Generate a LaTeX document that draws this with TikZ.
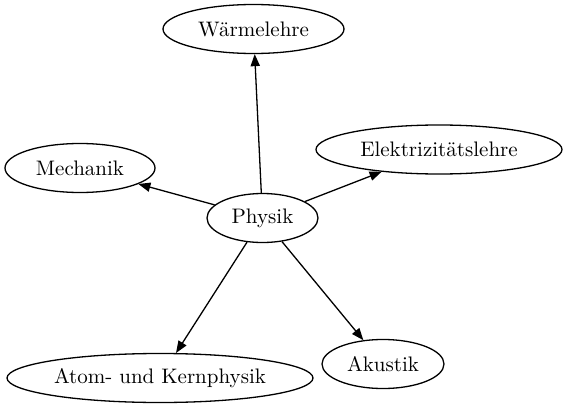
\documentclass[tikz,border=0pt]{standalone}
\usetikzlibrary{shapes.geometric,arrows.meta}
\begin{document}
\begin{tikzpicture}[x=0.5pt,y=-0.5pt,
  topic/.style={draw,ellipse,line width=0.65pt,inner sep=0pt,minimum height=24.5pt,font=\fontsize{10.5}{12}\selectfont},
  arr/.style={-{Triangle[length=6pt,width=4.6pt]},line width=0.65pt}]
  \useasboundingbox (0,0) rectangle (568,407);
  \draw (262.5,218) node[topic,minimum width=55.5pt] (p) {Physik}
   (253.5,29) node[topic,minimum width=90.5pt] (w) {Wärmelehre}
   (80,168) node[topic,minimum width=75pt] (m) {Mechanik}
   (439,149.5) node[topic,minimum width=123pt] (e) {Elektrizitätslehre}
   (160,378) node[topic,minimum width=153pt] (k) {Atom- und Kernphysik}
   (383,364) node[topic,minimum width=61pt] (a) {Akustik};
  \draw[arr] (p) -- (w);
  \draw[arr] (p) -- (m);
  \draw[arr] (p) -- (e);
  \draw[arr] (p) -- (k);
  \draw[arr] (p) -- (a);
\end{tikzpicture}
\end{document}
